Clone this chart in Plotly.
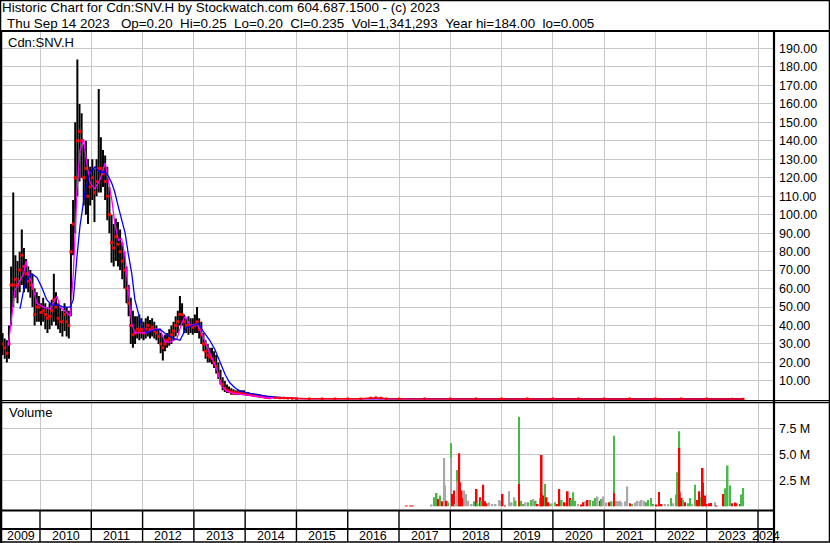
import numpy as np
import plotly.graph_objects as go

W, H = 830, 543
FONT = "Liberation Sans, Arial, sans-serif"

# ---------------- data ----------------
# semi-monthly price bars (high / low / close), starting spring 2009
price_start = 2009.27
price_step = 1 / 24
price_hi = [36, 33, 32, 40, 72, 112, 78, 75, 80, 92,
            82, 76, 72, 70, 68, 60, 58, 56, 52, 55,
            52, 50, 52, 54, 68, 58, 52, 50, 48, 52,
            50, 48, 95, 108, 150, 184, 160, 155, 138, 140,
            130, 126, 130, 125, 130, 168, 142, 135, 132, 126,
            115, 100, 95, 98, 96, 92, 85, 80, 72, 62,
            55, 48, 45, 45, 46, 44, 42, 44, 45, 43,
            44, 42, 40, 38, 36, 34, 35, 36, 38, 40,
            42, 45, 48, 56, 52, 46, 44, 45, 44, 44,
            46, 50, 44, 42, 36, 32, 30, 28, 28, 26,
            24, 20, 16, 12, 10, 8, 7, 6, 5.5, 5,
            5, 5, 5, 5, 4, 3.8, 3.5, 3.3, 3, 3,
            2.8, 2.5, 2.4, 2, 1.8, 1.5]
price_lo = [24, 22, 20, 22, 40, 50, 55, 52, 58, 62,
            58, 60, 58, 55, 50, 40, 42, 42, 40, 42,
            38, 36, 38, 40, 42, 40, 38, 36, 34, 37,
            34, 33, 45, 78, 90, 110, 118, 120, 105, 100,
            95, 105, 108, 96, 110, 112, 112, 115, 108, 97,
            90, 74, 72, 75, 72, 70, 65, 60, 52, 45,
            30, 28, 30, 33, 32, 33, 32, 33, 34, 33,
            34, 33, 32, 30, 25, 21, 26, 28, 29, 30,
            32, 34, 36, 40, 40, 36, 36, 35, 36, 35,
            36, 36, 33, 30, 26, 22, 20, 20, 19, 17,
            14, 11, 8, 5, 4, 3.5, 3.5, 2.5, 2.5, 2.5,
            2.5, 2.5, 2.5, 2.5, 2, 2, 2, 1.8, 1.5, 1.5,
            1.2, 1, 0.9, 0.8, 0.6, 0.5]
price_cl = [30, 28, 25, 30, 62, 62, 65, 62, 70, 78,
            72, 68, 64, 62, 60, 46, 50, 50, 47, 48,
            46, 44, 45, 48, 54, 50, 44, 42, 42, 46,
            42, 40, 80, 95, 120, 140, 145, 140, 120, 125,
            110, 115, 120, 112, 118, 125, 125, 122, 118, 110,
            100, 85, 82, 88, 84, 80, 75, 70, 60, 52,
            40, 35, 36, 38, 37, 38, 36, 38, 40, 38,
            39, 37, 36, 34, 30, 28, 30, 32, 33, 35,
            37, 40, 42, 46, 46, 42, 40, 40, 40, 39,
            40, 42, 38, 35, 30, 26, 24, 23, 22, 20,
            18, 14, 10, 8, 6, 5, 4.5, 4, 3.5, 3.5,
            3.5, 3.3, 3.2, 3, 3, 2.8, 2.6, 2.4, 2.2, 2,
            1.8, 1.5, 1.4, 1.2, 1.0, 0.9]

# later, near-zero period
late_t = [2014.58, 2014.67, 2014.75, 2014.83, 2014.92, 2015.0, 2015.25, 2015.5,
          2015.75, 2016.0, 2016.25, 2016.45, 2016.55, 2016.65, 2016.75, 2017.0,
          2017.5, 2018.0, 2018.5, 2019.0, 2019.5, 2020.0, 2020.5, 2021.0,
          2021.5, 2022.0, 2022.5, 2023.0, 2023.5, 2023.71]
late_hi = [1.5, 1.3, 1.2, 1.0, 0.9, 0.8, 0.6, 0.5, 0.5, 0.5, 0.5, 1.3, 1.4, 1.2, 0.6,
           0.5, 0.5, 0.6, 0.5, 0.5, 0.5, 0.5, 0.5, 0.5, 0.5, 0.5, 0.5, 0.5, 0.4, 0.25]
late_lo = [0.5, 0.5, 0.4, 0.4, 0.3, 0.3, 0.2, 0.2, 0.2, 0.2, 0.2, 0.3, 0.4, 0.3, 0.2,
           0.1, 0.1, 0.1, 0.1, 0.1, 0.1, 0.1, 0.1, 0.1, 0.1, 0.1, 0.1, 0.1, 0.1, 0.2]
late_cl = [0.9, 0.8, 0.7, 0.6, 0.5, 0.4, 0.35, 0.3, 0.3, 0.3, 0.3, 0.8, 0.9, 0.7, 0.3,
           0.3, 0.3, 0.35, 0.3, 0.3, 0.3, 0.3, 0.3, 0.3, 0.3, 0.3, 0.3, 0.3, 0.25, 0.235]

# short moving average (magenta)
ma_fast_t = [2009.38, 2009.45, 2009.51, 2009.58, 2009.68, 2009.73, 2009.77, 2009.84, 2009.94,
             2010.07, 2010.20, 2010.33, 2010.39, 2010.52, 2010.59, 2010.65, 2010.72, 2010.78,
             2010.85, 2010.91, 2010.98, 2011.07, 2011.17, 2011.27, 2011.33, 2011.40, 2011.46,
             2011.53, 2011.59, 2011.66, 2011.72, 2011.79, 2011.85, 2011.95, 2012.08, 2012.21,
             2012.34, 2012.44, 2012.54, 2012.67, 2012.76, 2012.83, 2012.93, 2013.06, 2013.15,
             2013.25, 2013.35, 2013.45, 2013.54, 2013.64, 2013.77, 2014.10, 2014.42, 2015.07,
             2016.5, 2017.0, 2023.71]
ma_fast_v = [29, 45, 59, 63, 68, 75, 68, 63, 52,
             50, 49, 56, 50, 47, 45, 68, 113, 135,
             141, 128, 117, 114, 119, 128, 119, 108, 95,
             86, 87, 77, 59, 41, 36, 36, 36, 38,
             38, 31, 31, 33, 41, 45, 40, 41, 36,
             29, 22, 16, 7, 4.5, 3.2, 2.2, 0.9, 0.4,
             0.6, 0.3, 0.25]

# long moving average (blue)
ma_slow_t = [2009.61, 2009.68, 2009.74, 2009.84, 2009.94, 2010.03, 2010.13, 2010.23, 2010.36,
             2010.46, 2010.59, 2010.65, 2010.72, 2010.78, 2010.88, 2010.98, 2011.07, 2011.17,
             2011.27, 2011.33, 2011.40, 2011.46, 2011.53, 2011.59, 2011.66, 2011.72, 2011.79,
             2011.85, 2011.92, 2011.98, 2012.08, 2012.21, 2012.34, 2012.47, 2012.60, 2012.73,
             2012.86, 2012.99, 2013.09, 2013.18, 2013.31, 2013.41, 2013.51, 2013.61, 2013.70,
             2013.80, 2013.90, 2014.10, 2014.42, 2014.74, 2015.07, 2016.6, 2017.0, 2023.71]
ma_slow_v = [49, 59, 65, 68, 66, 61, 54, 51, 51,
             50, 50, 54, 77, 94, 113, 123, 126, 123,
             123, 121, 117, 112, 104, 97, 90, 79, 68,
             54, 47, 40, 36, 37.5, 38, 35, 33, 32,
             39, 40, 41, 37, 32, 27, 20, 13.5, 9,
             6.3, 4.5, 3.2, 1.8, 0.9, 0.4, 0.35, 0.2, 0.2]

# volume (millions of shares), colour code: g=up, r=down, k=unchanged
vol_t = [2017.15, 2017.22, 2017.27,
         2017.636, 2017.688, 2017.733, 2017.766, 2017.798, 2017.844, 2017.883, 2017.896,
         2017.928, 2017.961, 2018.013, 2018.013, 2018.045, 2018.071, 2018.104, 2018.143,
         2018.143, 2018.175, 2018.188, 2018.221, 2018.240, 2018.273, 2018.305, 2018.351,
         2018.416, 2018.468, 2018.513, 2018.533, 2018.578, 2018.611, 2018.643, 2018.676,
         2018.708, 2018.754, 2018.819, 2018.884, 2018.949, 2018.988, 2019.020, 2019.066,
         2019.144, 2019.196, 2019.248, 2019.274, 2019.339, 2019.339, 2019.378, 2019.423,
         2019.469, 2019.521, 2019.573, 2019.618, 2019.664, 2019.703, 2019.748, 2019.781,
         2019.781, 2019.813, 2019.846, 2019.878, 2019.911, 2019.943, 2019.989, 2020.041,
         2020.093, 2020.125, 2020.171, 2020.223, 2020.268, 2020.288, 2020.333, 2020.366,
         2020.398, 2020.431, 2020.495, 2020.548, 2020.593, 2020.638, 2020.677, 2020.723,
         2020.788, 2020.820, 2020.872, 2020.918, 2020.950, 2020.983, 2021.048, 2021.093,
         2021.145, 2021.191, 2021.191, 2021.230, 2021.275, 2021.308, 2021.340, 2021.405,
         2021.451, 2021.503, 2021.548, 2021.600, 2021.652, 2021.698, 2021.730, 2021.782,
         2021.828, 2021.860, 2021.912, 2021.958, 2022.023, 2022.068, 2022.120, 2022.185,
         2022.250, 2022.302, 2022.348, 2022.400, 2022.432, 2022.465, 2022.465, 2022.475,
         2022.510, 2022.543, 2022.575, 2022.640, 2022.673, 2022.718, 2022.770, 2022.822,
         2022.855, 2022.887, 2022.920, 2022.930, 2022.965, 2022.998, 2023.043, 2023.082,
         2023.160, 2023.193, 2023.322, 2023.322, 2023.355, 2023.387, 2023.407, 2023.452,
         2023.498, 2023.550, 2023.582, 2023.647, 2023.680, 2023.712]
vol_m = [0.05, 0.05, 0.05,
         0.13, 0.87, 1.28, 0.71, 1.03, 0.48, 4.65, 1.99,
         0.54, 0.35, 6.06, 4.65, 1.19, 1.51, 0.22, 3.49,
         2.37, 5.10, 2.31, 1.51, 0.80, 1.51, 1.19, 0.54,
         0.22, 0.48, 1.67, 0.29, 0.87, 0.54, 2.08, 0.48,
         0.29, 0.38, 0.22, 0.22, 0.61, 0.54, 1.19, 0.06,
         1.44, 0.38, 0.87, 0.54, 8.62, 2.15, 0.54, 0.22,
         0.38, 0.38, 0.61, 0.71, 0.54, 0.22, 0.80, 4.94,
         1.19, 1.03, 2.15, 0.87, 0.38, 0.22, 0.29, 0.38,
         0.22, 1.67, 0.61, 0.38, 0.29, 1.44, 0.80, 0.61,
         1.35, 0.54, 0.22, 0.16, 0.38, 0.48, 0.61, 0.61,
         0.54, 0.80, 0.93, 0.54, 0.71, 0.93, 0.35, 0.38,
         0.48, 6.79, 1.28, 0.54, 0.48, 0.54, 0.38, 0.48,
         1.89, 0.29, 0.22, 0.35, 0.54, 0.48, 0.61, 0.54,
         0.38, 0.61, 0.80, 0.22, 0.13, 1.38, 0.22, 0.22,
         0.22, 0.80, 0.29, 1.12, 3.27, 7.21, 5.61, 1.35,
         0.80, 0.61, 0.38, 0.29, 0.80, 0.22, 2.08, 0.61,
         1.44, 0.87, 3.69, 2.24, 1.03, 0.22, 0.29, 0.32,
         0.38, 0.06, 0.61, 1.19, 1.73, 0.48, 3.91, 1.99,
         0.29, 0.35, 0.29, 0.22, 1.12, 1.76]
vol_c = ["r", "r", "r",
         "k", "g", "g", "r", "g", "r", "k", "k",
         "r", "g", "g", "k", "r", "r", "k", "g",
         "k", "r", "r", "r", "r", "k", "k", "k",
         "k", "g", "r", "g", "r", "g", "r", "r",
         "r", "k", "k", "k", "k", "k", "r", "r",
         "k", "k", "k", "g", "g", "r", "g", "g",
         "k", "g", "g", "k", "g", "r", "g", "r",
         "r", "r", "g", "r", "r", "g", "k", "g",
         "r", "r", "g", "r", "g", "r", "r", "g",
         "g", "g", "k", "r", "r", "k", "r", "g",
         "g", "g", "k", "r", "g", "k", "k", "r",
         "g", "g", "r", "k", "k", "k", "k", "k",
         "k", "r", "g", "k", "k", "k", "k", "k",
         "g", "g", "g", "g", "r", "r", "r", "k",
         "k", "g", "k", "g", "g", "g", "r", "r",
         "r", "g", "r", "g", "g", "k", "g", "r",
         "r", "g", "r", "r", "r", "r", "r", "r",
         "k", "r", "g", "r", "g", "g", "g", "g",
         "r", "r", "r", "r", "g", "g"]

years = list(range(2009, 2025))
x_range = [2009.259, 2024.292]
price_ticks = list(range(10, 200, 10))
vol_ticks = [2.5e6, 5.0e6, 7.5e6]
vol_tick_text = ["2.5 M", "5.0 M", "7.5 M"]

header1 = "Historic Chart for Cdn:SNV.H by Stockwatch.com 604.687.1500 - (c) 2023"
header2 = ("Thu Sep 14 2023   Op=0.20  Hi=0.25  Lo=0.20  Cl=0.235  "
           "Vol=1,341,293  Year hi=184.00  lo=0.005")

# ---------------- helpers ----------------
def py(ypx):
    return 1 - ypx / H


def pxr(xpx):
    return xpx / W


price_t = price_start + np.arange(len(price_cl)) * price_step
all_t = list(price_t) + late_t
all_hi = price_hi + late_hi
all_lo = price_lo + late_lo

bar_x, bar_y = [], []
for t, h, l in zip(all_t, all_hi, all_lo):
    bar_x += [t, t, None]
    bar_y += [l, h, None]

colmap = {"g": "#4cb84c", "r": "#ff0000", "k": "#a8a8a8"}

fig = go.Figure()
fig.add_trace(go.Scatter(x=bar_x, y=bar_y, mode="lines",
                         line=dict(color="black", width=2),
                         hoverinfo="skip", xaxis="x", yaxis="y"))
fig.add_trace(go.Scatter(x=list(price_t), y=price_cl, mode="markers",
                         marker=dict(color="#ff0000", size=3, symbol="square",
                                     line=dict(width=0)),
                         xaxis="x", yaxis="y"))
fig.add_trace(go.Scatter(x=ma_fast_t, y=ma_fast_v, mode="lines",
                         line=dict(color="#ff00ff", width=1.3),
                         xaxis="x", yaxis="y"))
fig.add_trace(go.Scatter(x=ma_slow_t, y=ma_slow_v, mode="lines",
                         line=dict(color="#0000ff", width=1.3),
                         xaxis="x", yaxis="y"))
fig.add_trace(go.Scatter(x=late_t, y=late_cl, mode="lines+markers",
                         line=dict(color="#ff0000", width=1.5),
                         marker=dict(color="#ff0000", size=2.5, symbol="square"),
                         xaxis="x", yaxis="y"))
fig.add_trace(go.Bar(x=vol_t, y=[v * 1e6 for v in vol_m],
                     marker=dict(color=[colmap[c] for c in vol_c], line=dict(width=0)),
                     width=0.034, xaxis="x2", yaxis="y2"))

axis_font = dict(family=FONT, size=12.5, color="#000000")
fig.update_layout(
    width=W, height=H,
    margin=dict(l=0, r=0, t=0, b=0),
    paper_bgcolor="white", plot_bgcolor="white",
    showlegend=False, barmode="overlay",
    xaxis=dict(domain=[pxr(2), pxr(773)], range=x_range, anchor="y",
               tickvals=years[1:], showticklabels=False, ticks="",
               showgrid=True, gridcolor="#c8c8c8", gridwidth=1,
               zeroline=False, showline=False),
    xaxis2=dict(domain=[pxr(2), pxr(773)], range=x_range, anchor="y2", matches="x",
                tickvals=years[1:], showticklabels=False, ticks="",
                showgrid=True, gridcolor="#c8c8c8", gridwidth=1,
                zeroline=False, showline=False),
    yaxis=dict(domain=[py(400.5), py(31.5)], range=[-0.6, 199.2], side="right",
               anchor="x", tickvals=price_ticks,
               ticktext=[f"{v:.2f}" for v in price_ticks],
               tickfont=axis_font, ticks="", ticklabelstandoff=5,
               showgrid=True, gridcolor="#c8c8c8", gridwidth=1,
               zeroline=False, showline=False),
    yaxis2=dict(domain=[py(510), py(402.5)], range=[-0.36e6, 9.98e6], side="right",
                anchor="x2", tickvals=vol_ticks, ticktext=vol_tick_text,
                tickfont=axis_font, ticks="", ticklabelstandoff=5,
                showgrid=True, gridcolor="#c8c8c8", gridwidth=1,
                zeroline=False, showline=False),
)

txt = dict(family=FONT, size=13.4, color="#000000")
txt_small = dict(family=FONT, size=13, color="#000000")
ann = [
    dict(x=pxr(0), y=py(7.5), xref="paper", yref="paper", text=header1,
         showarrow=False, xanchor="left", yanchor="middle", font=txt),
    dict(x=pxr(5), y=py(23), xref="paper", yref="paper",
         text=header2.replace(" ", "\u00a0"),
         showarrow=False, xanchor="left", yanchor="middle", font=txt),
    dict(x=pxr(6), y=py(42), xref="paper", yref="paper", text="Cdn:SNV.H",
         showarrow=False, xanchor="left", yanchor="middle", font=txt_small),
    dict(x=pxr(7), y=py(413), xref="paper", yref="paper", text="Volume",
         showarrow=False, xanchor="left", yanchor="middle", font=txt_small),
]
for yr in years:
    lo_edge = max(yr, x_range[0])
    hi_edge = min(yr + 1, x_range[1])
    ann.append(dict(x=(lo_edge + hi_edge) / 2, y=py(535.5), xref="x", yref="paper",
                    text=str(yr), showarrow=False, xanchor="center", yanchor="middle",
                    font=dict(family=FONT, size=12.5, color="#000000")))
fig.update_layout(annotations=ann)

shapes = [
    # outer frame
    dict(type="rect", xref="paper", yref="paper", x0=pxr(0.5), x1=pxr(829.5),
         y0=py(542), y1=py(0.5), line=dict(color="black", width=1.5), layer="above"),
    dict(type="line", xref="paper", yref="paper", x0=pxr(1), x1=pxr(1),
         y0=py(543), y1=py(31), line=dict(color="black", width=2.5), layer="above"),
    # header separator
    dict(type="line", xref="paper", yref="paper", x0=0, x1=1, y0=py(31), y1=py(31),
         line=dict(color="black", width=2.2), layer="above"),
    # right separator
    dict(type="line", xref="paper", yref="paper", x0=pxr(774), x1=pxr(774),
         y0=py(31), y1=py(543), line=dict(color="black", width=2.2), layer="above"),
    # price / volume separators
    dict(type="line", xref="paper", yref="paper", x0=0, x1=1, y0=py(400.5), y1=py(400.5),
         line=dict(color="black", width=1), layer="above"),
    dict(type="line", xref="paper", yref="paper", x0=0, x1=1, y0=py(402.5), y1=py(402.5),
         line=dict(color="black", width=1.3), layer="above"),
    # bottom strip
    dict(type="line", xref="paper", yref="paper", x0=0, x1=pxr(774), y0=py(510.5),
         y1=py(510.5), line=dict(color="black", width=2), layer="above"),
    dict(type="line", xref="paper", yref="paper", x0=0, x1=pxr(774), y0=py(529),
         y1=py(529), line=dict(color="black", width=2), layer="above"),
]
for yr in years[1:]:
    shapes.append(dict(type="line", xref="x", yref="paper", x0=yr, x1=yr,
                       y0=py(510.5), y1=py(542), line=dict(color="black", width=1.4),
                       layer="above"))
fig.update_layout(shapes=shapes)

fig.write_html("out.html", config={"displayModeBar": False},
               post_script="document.body.style.margin='0px';"
                           "document.body.style.padding='0px';")
